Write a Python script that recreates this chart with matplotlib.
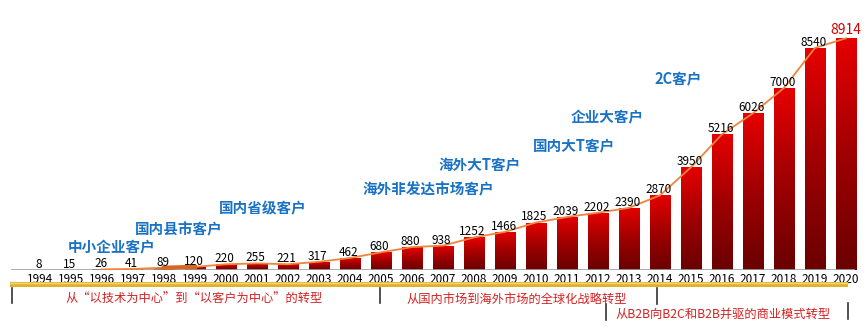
import matplotlib
matplotlib.use('Agg')
import matplotlib.pyplot as plt
import numpy as np
from matplotlib.colors import LinearSegmentedColormap
from matplotlib.patches import Rectangle
from matplotlib.lines import Line2D

plt.rcParams['font.family'] = ['Noto Sans CJK SC', 'DejaVu Sans']

# 历年数据
years = [1994, 1995, 1996, 1997, 1998, 1999, 2000, 2001, 2002, 2003, 2004, 2005, 2006,
         2007, 2008, 2009, 2010, 2011, 2012, 2013, 2014, 2015, 2016, 2017, 2018, 2019, 2020]
values = [8, 15, 26, 41, 89, 120, 220, 255, 221, 317, 462, 680, 880,
          938, 1252, 1466, 1825, 2039, 2202, 2390, 2870, 3950, 5216, 6026, 7000, 8540, 8914]

# 客户阶段
client_labels = ['中小企业客户', '国内县市客户', '国内省级客户', '海外非发达市场客户',
                 '海外大T客户', '国内大T客户', '企业大客户', '2C客户']

# 战略转型
phase_labels = ['从“以技术为中心”到“以客户为中心”的转型',
                '从国内市场到海外市场的全球化战略转型',
                '从B2B向B2C和B2B并驱的商业模式转型']

W, H = 865, 327


def px(x, y):
    # 像素坐标 -> figure 坐标
    return x / W, 1 - y / H


fig = plt.figure(figsize=(W / 100, H / 100), dpi=100)
fig.patch.set_facecolor('white')

scale = 0.026  # 每单位像素
ax = fig.add_axes([10.5 / W, (H - 270) / H, 844.75 / W, 270 / H])
for s in ax.spines.values():
    s.set_visible(False)
ax.set_yticks([])

x = np.arange(len(years))
bars = ax.bar(x, values, width=0.65, color='none', edgecolor='none', zorder=2)

# 渐变柱子
grad = np.linspace(0, 1, 256).reshape(-1, 1)
cmap = LinearSegmentedColormap.from_list('bar', ['#6a0000', '#a00000', '#e60000'])
for rect in bars:
    x0, w, h = rect.get_x(), rect.get_width(), rect.get_height()
    im = ax.imshow(grad, extent=[x0, x0 + w, 0, h], origin='lower', cmap=cmap,
                   aspect='auto', zorder=2)
    im.set_clip_path(rect)
ax.set_xlim(-0.95, 26.3)
ax.set_ylim(0, 270 / scale)

ax.axhline(0, color='#a0a0a0', lw=1.2, zorder=3)

# 趋势线
ax.plot(x[2:], values[2:], color='#f0843c', lw=1.3, zorder=4)
ax.plot(x[4:6], values[4:6], color='#d8661e', lw=3, zorder=4)

# 数值
for i, v in enumerate(values):
    if i == len(values) - 1:
        ax.annotate(str(v), (i, v), xytext=(0, 3), textcoords='offset points',
                    ha='center', va='baseline', fontsize=10, color='#d40000', zorder=5)
    else:
        ax.annotate(str(v), (i, v), xytext=(-1, 1.5), textcoords='offset points',
                    ha='center', va='baseline', fontsize=8.5, color='black', zorder=5)

ax.set_xticks(x)
ax.set_xticklabels([str(y) for y in years], fontsize=8.5)
ax.tick_params(axis='x', length=0, pad=2)

# 客户阶段标签
label_pos = [(112, 247), (179, 229), (263, 208), (428, 189),
             (480, 165), (574, 145), (607, 117), (678, 78)]
for txt, (lx, ly) in zip(client_labels, label_pos):
    fig.text(*px(lx, ly), txt, ha='center', va='center', fontsize=10.5,
             fontweight='bold', color='#1a72c4')

# 金色横条
fig.add_artist(Rectangle(px(10, 287), (848 - 10) / W, 5 / H, transform=fig.transFigure,
                         facecolor='#e2b12c', edgecolor='none'))
fig.add_artist(Line2D([10 / W, 848 / W], [px(0, 282.5)[1]] * 2, transform=fig.transFigure,
                      color='#f3d87a', lw=1))

# 分隔竖线
for vx, y0, y1 in [(12, 288, 303), (380, 288, 303), (657, 288, 304),
                   (606, 304, 320), (848, 303, 319)]:
    fig.add_artist(Line2D([vx / W, vx / W], [px(0, y0)[1], px(0, y1)[1]],
                          transform=fig.transFigure, color='#333333', lw=1.2))

# 转型说明
for txt, (tx, ty) in zip(phase_labels, [(194, 299), (517, 299), (723, 314)]):
    fig.text(*px(tx, ty), txt, ha='center', va='center', fontsize=8.8, color='#d42222')

fig.savefig('out.png', dpi=100)
